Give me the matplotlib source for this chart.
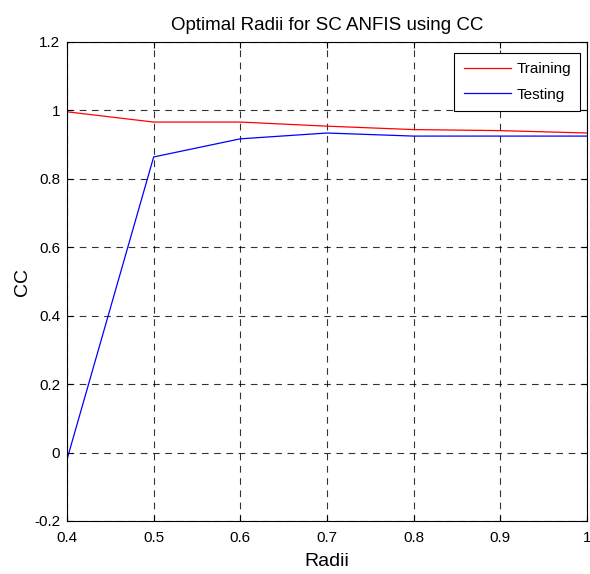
import matplotlib
matplotlib.use("Agg")
import matplotlib.pyplot as plt

radii = [0.4, 0.5, 0.6, 0.7, 0.8, 0.9, 1.0]
training = [0.996, 0.966, 0.966, 0.954, 0.944, 0.941, 0.934]
testing = [-0.02, 0.864, 0.917, 0.934, 0.925, 0.925, 0.925]
xticks = [0.4, 0.5, 0.6, 0.7, 0.8, 0.9, 1.0]
xticklabels = ["0.4", "0.5", "0.6", "0.7", "0.8", "0.9", "1"]
yticks = [-0.2, 0, 0.2, 0.4, 0.6, 0.8, 1.0, 1.2]
yticklabels = ["-0.2", "0", "0.2", "0.4", "0.6", "0.8", "1", "1.2"]

plt.rcParams['font.family'] = ['Liberation Sans', 'DejaVu Sans']
W, H = 590, 574
fig = plt.figure(figsize=(W/100, H/100), dpi=100)
ax = fig.add_axes([67/W, 1-521/H, (587-67)/W, (521-42)/H])
ax.plot(radii, training, color='red', lw=0.9, label='Training')
ax.plot(radii, testing, color='blue', lw=0.9, label='Testing')
ax.set_xlim(0.4, 1.0)
ax.set_ylim(-0.2, 1.2)
ax.set_xticks(xticks)
ax.set_xticklabels(xticklabels)
ax.set_yticks(yticks)
ax.set_yticklabels(yticklabels)
ax.tick_params(direction='in', labelsize=11, length=4, top=True, right=True, pad=5)
ax.tick_params(axis='x', pad=7)
ax.grid(True, color='black', linestyle=(0, (6, 5)), lw=0.8, alpha=0.8)
for s in ax.spines.values():
    s.set_linewidth(0.8)
ax.set_title('Optimal Radii for SC ANFIS using CC', fontsize=13.5, pad=9)
ax.set_xlabel('Radii', fontsize=14, labelpad=6)
ax.set_ylabel('CC', fontsize=14, labelpad=2)
leg = ax.legend(loc='upper right', bbox_to_anchor=(580/W, 1-53/H),
                bbox_transform=fig.transFigure, borderaxespad=0,
                fancybox=False, edgecolor='black', fontsize=11,
                framealpha=1, handlelength=3.1, handletextpad=0.35,
                labelspacing=0.75, borderpad=0.6)
leg.get_frame().set_linewidth(0.8)
fig.savefig('out.png', dpi=100)
